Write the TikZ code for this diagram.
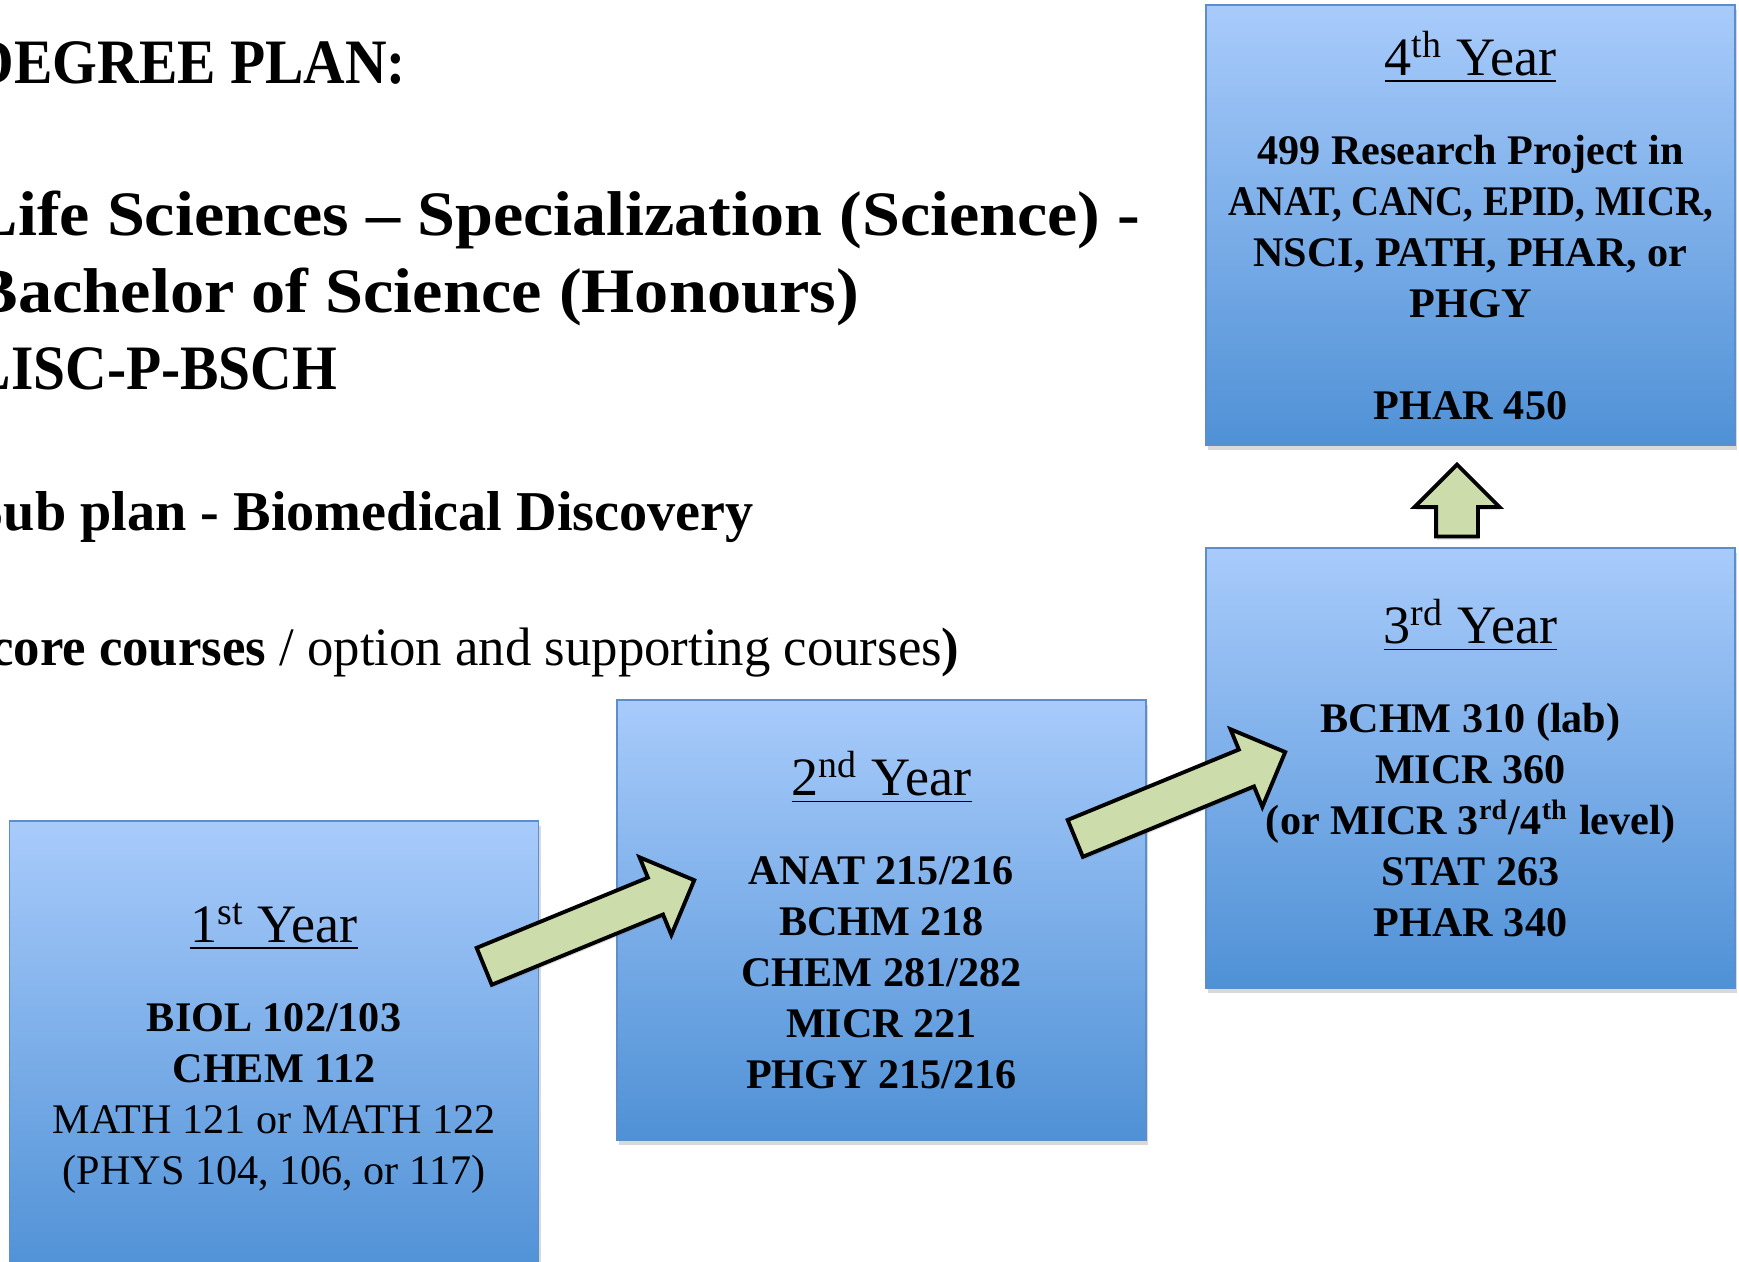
\documentclass[tikz,border=0pt]{standalone}
\usepackage{fontspec}
\setmainfont{Liberation Serif}
\usepackage{graphicx}
\usepackage{tikz}
\usetikzlibrary{
  % block arrows between the years
  shapes.arrows,%
  shadows,%
  calc,%
  positioning
}
\definecolor{yeartop}{RGB}{168,203,251}
\definecolor{yearbot}{RGB}{79,145,214}
\definecolor{yearline}{RGB}{92,141,205}
\definecolor{stepgreen}{RGB}{205,220,171}
\tikzset{
  yearbox/.style={rectangle, draw=yearline, line width=0.5pt,
    top color=yeartop, bottom color=yearbot,
    minimum width=5.29cm, minimum height=4.4cm, inner sep=0pt, align=center,
    drop shadow={shadow xshift=0.02cm, shadow yshift=-0.05cm, opacity=0.3},
    font=\fontsize{12}{14.5}\selectfont},
  core/.style={font=\bfseries\fontsize{12}{14.5}\selectfont},
  stepup/.style={single arrow, draw=black, line width=1.1pt, fill=stepgreen,
    minimum width=0.8cm, minimum height=2.27cm, single arrow head extend=0.22cm,
    inner xsep=0pt, inner ysep=0.18cm,
    drop shadow={shadow xshift=0.01cm, shadow yshift=-0.03cm, opacity=0.25}},
  headline/.style={anchor=base west, inner sep=0pt,
    font=\bfseries\fontsize{18}{21}\selectfont}
}
\newcommand{\yeartitle}[1]{{\mdseries\fontsize{15.4}{18}\selectfont\underline{#1}}}
% widen or narrow a line to the width of the original
\newcommand{\fitx}[2]{\scalebox{#1}[1]{#2}}

\begin{document}
\begin{tikzpicture}
  \useasboundingbox (0,0) rectangle (17.39,-12.61);
  \clip (0,0) rectangle (17.39,-12.61);

  \node[headline] (plan) at (-0.28,-0.83) {\fitx{0.91}{DEGREE PLAN:}};
  \node[headline] (major) at (-0.28,-2.35) {\fitx{1.077}{Life Sciences – Specialization (Science) -}};
  \node[headline] (degree) at (-0.28,-3.12) {\fitx{1.08}{Bachelor of Science (Honours)}};
  \node[headline] (code) at (-0.28,-3.89) {\fitx{0.91}{LISC-P-BSCH}};
  \node[headline, font=\bfseries\fontsize{16}{19}\selectfont] (subplan) at (-0.28,-5.30)
    {Sub plan - Biomedical Discovery};
  \node[headline, font=\fontsize{15.4}{18}\selectfont] (legend) at (-0.28,-6.65)
    {\fitx{0.975}{\textbf{(core courses} / option and supporting courses\textbf{)}}};

  \node[yearbox, minimum height=4.54cm] (first) at (2.74,-10.48) {\yeartitle{1\textsuperscript{st} Year}\\[10.8pt]
    \textbf{BIOL 102/103}\\ \textbf{CHEM 112}\\ MATH 121 or MATH 122\\ (PHYS 104, 106, or 117)};
  \node[yearbox, core] (second) at (8.815,-9.20) {\yeartitle{2\textsuperscript{nd} Year}\\[10.8pt]
    ANAT 215/216\\ BCHM 218\\ CHEM 281/282\\ MICR 221\\ PHGY 215/216};
  \node[yearbox, core] (third) at (14.705,-7.68) {\yeartitle{3\textsuperscript{rd} Year}\\[10.8pt]
    BCHM 310 (lab)\\ MICR 360\\ (or MICR 3\textsuperscript{rd}/4\textsuperscript{th} level)\\
    STAT 263\\ PHAR 340};
  \node[yearbox, core, above=1.01cm of third] (fourth) {\yeartitle{4\textsuperscript{th} Year}\\[10.8pt]
    499 Research Project in\\ \fitx{0.92}{ANAT, CANC, EPID, MICR,}\\ NSCI, PATH, PHAR, or\\ PHGY\\[14.5pt]
    PHAR 450};

  \node[stepup, rotate=22.3] (grow12) at (5.80,-9.27) {};
  \node[stepup, rotate=22.35] (grow23) at (11.71,-7.99) {};
  \node[stepup, rotate=90, minimum height=0.72cm, minimum width=0.81cm,
    inner ysep=0.19cm, single arrow head extend=0.215cm] (grow34) at (14.57,-5.11) {};
\end{tikzpicture}
\end{document}
